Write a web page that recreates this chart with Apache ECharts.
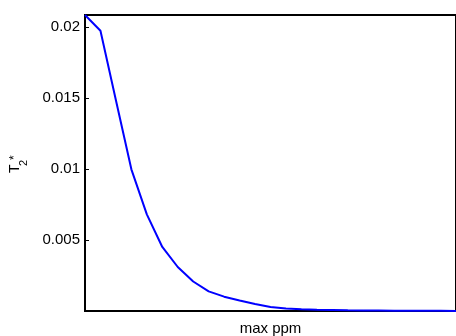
<!DOCTYPE html>
<html>
<head>
<meta charset="utf-8">
<script src="https://cdn.jsdelivr.net/npm/echarts@6/dist/echarts.min.js"></script>
<style>
  html, body { margin: 0; padding: 0; background: #fff; }
  #chart { width: 456px; height: 336px; }
</style>
</head>
<body>
<div id="chart"></div>
<script>
// Sample index (max ppm setting) and the fitted T2* for each
const maxPpm = [1, 2, 3, 4, 5, 6, 7, 8, 9, 10, 11, 12, 13, 14, 15, 16, 17, 18, 19, 20, 21, 22, 23, 24, 25];
const t2star = [0.02087, 0.01976, 0.01487, 0.0100, 0.00683, 0.00453, 0.00312, 0.00210, 0.00140, 0.00103,
                0.00076, 0.00051, 0.00030, 0.00020, 0.00014, 0.00011, 0.00009, 0.00007, 0.00006, 0.00005,
                0.00004, 0.00004, 0.00003, 0.00003, 0.00002];
const yTicks = [0.005, 0.01, 0.015, 0.02];
const yTickLabels = ['0.005', '0.01', '0.015', '0.02'];

const FONT = '"Liberation Sans", Arial, Helvetica, sans-serif';
const chart = echarts.init(document.getElementById('chart'), null, { renderer: 'canvas' });

const yBase = {
  type: 'value',
  min: v => v.min,
  max: v => v.max,
  splitLine: { show: false },
  axisLine: { show: false },
  axisTick: { show: true, inside: true, length: 4, customValues: yTicks, lineStyle: { color: '#000', width: 1 } }
};

chart.setOption({
  animation: false,
  backgroundColor: '#fff',
  grid: {
    left: 85, top: 15, right: 0, bottom: 25,
    outerBoundsMode: 'none',
    containLabel: false,
    show: true, borderColor: '#000', borderWidth: 2, backgroundColor: 'transparent'
  },
  xAxis: {
    type: 'value',
    min: maxPpm[0],
    max: maxPpm[maxPpm.length - 1],
    name: 'max ppm',
    nameLocation: 'middle',
    nameGap: 10,
    nameTextStyle: { fontFamily: FONT, fontSize: 15, color: '#000', verticalAlign: 'top' },
    axisLine: { show: false },
    axisTick: { show: false },
    axisLabel: { show: false },
    splitLine: { show: false }
  },
  yAxis: [
    Object.assign({}, yBase, {
      position: 'left',
      axisLabel: {
        show: true, customValues: yTicks, margin: 5,
        fontFamily: FONT, fontSize: 15, color: '#000',
        formatter: v => yTickLabels[yTicks.findIndex(t => Math.abs(t - v) < 1e-9)] || ''
      }
    }),
    Object.assign({}, yBase, {
      position: 'right',
      axisLabel: { show: false }
    })
  ],
  graphic: [{
    type: 'group',
    x: 0, y: 0,
    rotation: Math.PI / 2,
    children: [
      { type: 'text', x: -173, y: 15, style: { text: 'T', font: '14px ' + FONT, fill: '#000', align: 'left', verticalAlign: 'middle' } },
      { type: 'text', x: -166, y: 24, style: { text: '2', font: '11px ' + FONT, fill: '#000', align: 'left', verticalAlign: 'middle' } },
      { type: 'text', x: -160, y: 14.4, style: { text: '*', font: '12px ' + FONT, fill: '#000', align: 'left', verticalAlign: 'middle' } }
    ]
  }],
  series: [{
    type: 'line',
    yAxisIndex: 0,
    data: maxPpm.map((x, i) => [x, t2star[i]]),
    showSymbol: false,
    lineStyle: { color: '#0000ff', width: 2 },
    itemStyle: { color: '#0000ff' },
    clip: false
  }]
});
</script>
</body>
</html>
